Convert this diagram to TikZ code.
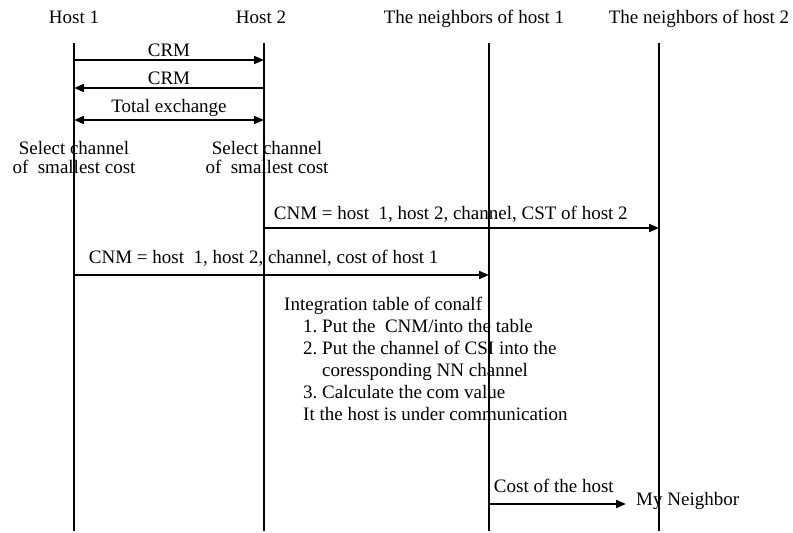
\documentclass[tikz,border=0pt]{standalone}
\usepackage{fontspec}
\setmainfont{Liberation Serif}
\usetikzlibrary{arrows.meta}
\frenchspacing
\tikzset{
  >={Triangle[length=10pt,width=8pt]},
  msg/.style={->,line width=1.8pt},
  life/.style={line width=2.6pt},
  note/.style={anchor=base west,pos=0},
}

\begin{document}
\begin{tikzpicture}[x=1pt,y=-1pt,every node/.style={font=\fontsize{19}{22}\selectfont}]
  \useasboundingbox (0,0) rectangle (793,533);
  % headers
  \node (H1) [anchor=base] at (74,23) {Host 1};
  \node (H2) [anchor=base] at (261,23) {Host 2};
  \node (N1) [anchor=base] at (474,23) {The neighbors of host 1};
  \node (N2) [anchor=base] at (699,23) {The neighbors of host 2};
  % lifelines
  \foreach \n/\x in {A/74,B/264,C/489,D/659}{
    \coordinate (\n0) at (\x,43);
    \coordinate (\n9) at (\x,531);
    \draw [life] (\n0) -- (\n9);
  }
  \coordinate (A1) at (74,60);  \coordinate (B1) at (264,60);
  \coordinate (A2) at (74,88);  \coordinate (B2) at (264,88);
  \coordinate (A3) at (74,120); \coordinate (B3) at (264,120);
  \coordinate (B4) at (264,228); \coordinate (D4) at (659,228);
  \coordinate (A5) at (74,275); \coordinate (C5) at (489,275);
  \coordinate (C6) at (489,504);
  \draw [msg] (A1) to node [above,inner sep=2pt] {CRM} (B1);
  \draw [msg] (B2) to node [above,inner sep=2pt] {CRM} (A2);
  \draw [msg,<->] (A3) to node [above,inner sep=3pt] {Total exchange} (B3);
  \node (S1) [align=center,font=\fontsize{19}{19}\selectfont] at (74,157) {Select channel\\of~ smallest cost};
  \node (S2) [align=center,font=\fontsize{19}{19}\selectfont] at (267,157) {Select channel\\of~ smallest cost};
  \draw [msg] (B4) to node [note,xshift=5.7pt,yshift=9pt] {CNM = host~ 1, host 2, channel, CST of host 2} (D4);
  \draw [msg] (A5) to node [note,xshift=10.7pt,yshift=12pt] {CNM = host~ 1, host 2, channel, cost of host 1} (C5);
  \node (T) [anchor=north west,align=left] at (280.7,294) {Integration table of conalf\\
    \hspace*{19pt}1. Put the~ CNM/into the table\\
    \hspace*{19pt}2. Put the channel of CSI into the\\
    \hspace*{38pt}coressponding NN channel\\
    \hspace*{19pt}3. Calculate the com value\\
    \hspace*{19pt}It the host is under communication};
  \node (M) [anchor=base west,inner sep=2pt] at (634,505) {My Neighbor};
  \draw [msg,shorten >=8pt] (C6) to node [note,xshift=0.7pt,yshift=12pt] {Cost of the host} (C6 -| M.west);
\end{tikzpicture}
\end{document}
